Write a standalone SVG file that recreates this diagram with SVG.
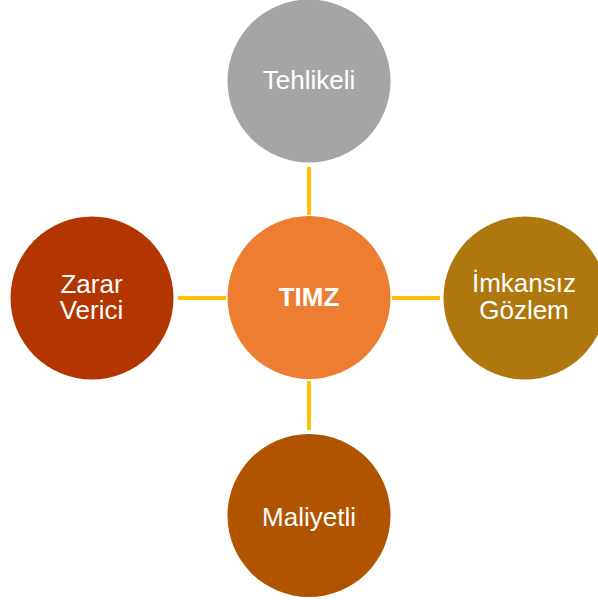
<svg xmlns="http://www.w3.org/2000/svg" width="598" height="600" viewBox="0 0 598 600">
<style>
.lbl{font-family:"Liberation Sans",Arial,sans-serif;font-size:26px;fill:#fff;text-anchor:middle}
.b{font-weight:bold}
.conn line{stroke:#FFC000;stroke-width:4}
</style>
<rect width="598" height="600" fill="#fff"/>
<g id="connectors" class="conn">
<line x1="309" y1="167" x2="309" y2="215"/>
<line x1="178" y1="298" x2="226" y2="298"/>
<line x1="392" y1="298" x2="440" y2="298"/>
<line x1="309" y1="381" x2="309" y2="430"/>
</g>
<g id="center">
<circle cx="309" cy="297.5" r="81.5" fill="#ED7D31"/>
<text class="lbl b" x="309" y="306">TIMZ</text>
</g>
<g id="top">
<circle cx="309" cy="81" r="81.5" fill="#A5A5A5"/>
<text class="lbl" x="309" y="89">Tehlikeli</text>
</g>
<g id="left">
<circle cx="92" cy="298" r="81.5" fill="#B33500"/>
<text class="lbl" x="91.5" y="293">Zarar</text>
<text class="lbl" x="91.5" y="319">Verici</text>
</g>
<g id="right">
<circle cx="525" cy="298" r="81.5" fill="#AE780E"/>
<text class="lbl" x="524" y="292">İmkansız</text>
<text class="lbl" x="524" y="319">Gözlem</text>
</g>
<g id="bottom">
<circle cx="309" cy="515.5" r="81.5" fill="#B05400"/>
<text class="lbl" x="309" y="526">Maliyetli</text>
</g>
</svg>
